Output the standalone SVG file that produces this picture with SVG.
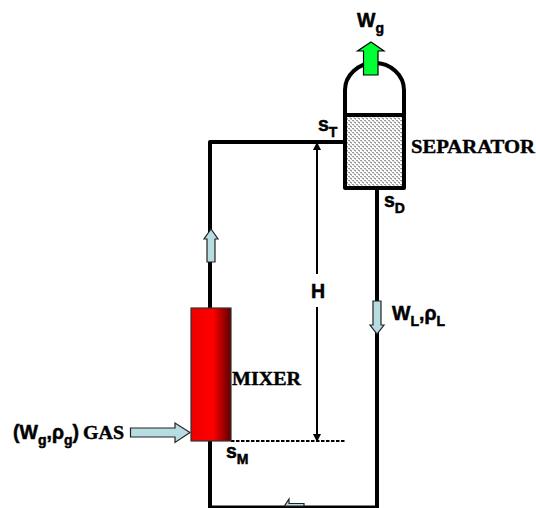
<svg xmlns="http://www.w3.org/2000/svg" width="536" height="508" viewBox="0 0 536 508">
<style>
.pipe{fill:none;stroke:#000;stroke-width:4;stroke-linejoin:round}
.dim{fill:none;stroke:#000;stroke-width:2}
.flow{fill:#b7dde3;stroke:#222;stroke-width:1.2}
.s{font-family:"Liberation Sans",Arial,sans-serif;font-weight:bold;font-size:19.500px;fill:#000;stroke:#000;stroke-width:.5}
.sub{font-size:14px}
.r{font-family:"Liberation Serif","Times New Roman",serif;font-weight:bold;font-size:18.500px;fill:#000;stroke:#000;stroke-width:.4}
</style>
<defs>
<linearGradient id="red" x1="0" y1="0" x2="1" y2="0">
<stop offset="0" stop-color="#ee0000"/><stop offset="0.55" stop-color="#ff0000"/><stop offset="1" stop-color="#5c0000"/>
</linearGradient>
<pattern id="dither" width="4" height="4" patternUnits="userSpaceOnUse">
<rect width="4" height="4" fill="#fff"/>
<rect width="2" height="1" fill="#999"/><rect x="2" y="2" width="2" height="1" fill="#999"/>
<rect x="1" y="1" width="2" height="1" fill="#ccc"/><rect x="3" y="3" width="1" height="1" fill="#bbb"/>
</pattern>
<marker id="ah" markerWidth="8" markerHeight="8" refX="7" refY="4" orient="auto-start-reverse" markerUnits="userSpaceOnUse"><path d="M0,0L8,4L0,8Z" fill="#000"/></marker>
</defs>
<g id="connectors">
<path class="pipe" d="M344,142H210V309"/>
<path class="pipe" d="M210,441V507.500H377V189"/>
<path class="dim" d="M317,274V143" marker-end="url(#ah)"/>
<path class="dim" d="M317,307V441" marker-end="url(#ah)"/>
<path d="M231,441H345" fill="none" stroke="#000" stroke-width="2.200" stroke-dasharray="3.500 1.500"/>
<polygon class="flow" points="207,262 207,239 204,239 211,229 218,239 215,239 215,262"/>
<polygon class="flow" points="373,301 381,301 381,325 384,325 377,334 370,325 373,325"/>
<polygon class="flow" points="130.500,428 175,428 175,423 190,432.500 175,442.500 175,437 130.500,437"/>
<path class="flow" d="M304,506V503.500H289V499L284.500,506Z"/>
</g>
<g id="separator">
<rect x="345" y="115" width="59" height="73" fill="url(#dither)"/>
<path d="M345,115V90A29.500,27 0 0 1 404,90V115" fill="none" stroke="#000" stroke-width="4"/>
<path d="M345,115H404V188H345Z" fill="none" stroke="#000" stroke-width="4" stroke-linejoin="round"/>
<text class="r" x="411" y="153" textLength="124" lengthAdjust="spacingAndGlyphs">SEPARATOR</text>
</g>
<g id="gas-outlet">
<polygon points="363.500,75 363.500,51 357.500,51 371,42 384,51 378,51 378,75" fill="#00ff33" stroke="#000" stroke-width="1.200"/>
<text class="s" x="357" y="27">W<tspan class="sub" dy="6">g</tspan></text>
</g>
<g id="mixer">
<rect x="191" y="308" width="40" height="133" fill="url(#red)" stroke="#333" stroke-width="1.200"/>
<text class="r" x="232" y="385" textLength="69" lengthAdjust="spacingAndGlyphs">MIXER</text>
</g>
<g id="labels">
<text class="s" x="318" y="131">s<tspan class="sub" dy="6">T</tspan></text>
<text class="s" x="384" y="207">s<tspan class="sub" dy="6">D</tspan></text>
<text class="s" x="226" y="458">s<tspan class="sub" dy="6">M</tspan></text>
<text class="s" x="311" y="298">H</text>
<text class="s" x="392" y="320">W<tspan class="sub" dy="6">L</tspan><tspan dy="-6">,ρ</tspan><tspan class="sub" dy="6">L</tspan></text>
<text class="s" x="13" y="439">(W<tspan class="sub" dy="6">g</tspan><tspan dy="-6">,ρ</tspan><tspan class="sub" dy="6">g</tspan><tspan dy="-6">)</tspan></text>
<text class="r" x="83" y="439" textLength="41" lengthAdjust="spacingAndGlyphs">GAS</text>
</g>
</svg>
